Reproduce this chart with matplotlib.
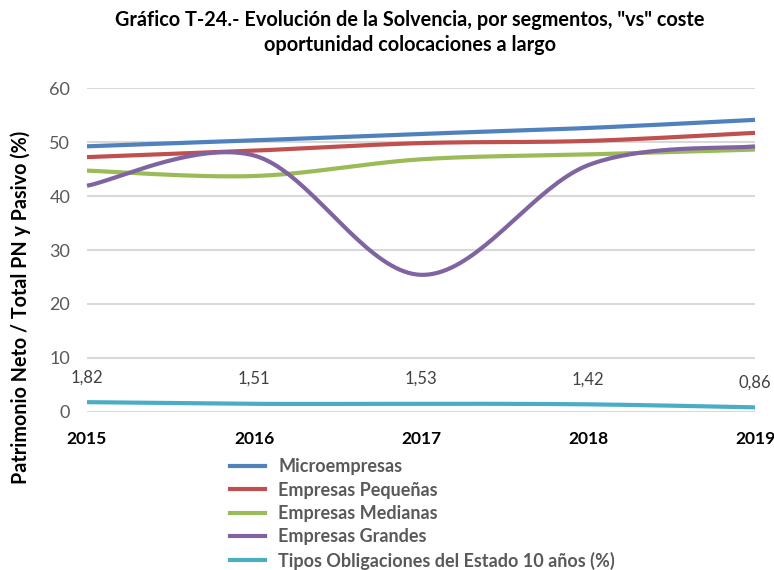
import matplotlib
matplotlib.use("Agg")
import matplotlib.pyplot as plt
import numpy as np
from matplotlib.lines import Line2D

years = [2015, 2016, 2017, 2018, 2019]
micro = [49.2, 50.3, 51.5, 52.6, 54.1]
pequenas = [47.2, 48.4, 49.8, 50.2, 51.7]
medianas = [44.7, 43.7, 46.8, 47.7, 48.6]
grandes = [41.9, 47.5, 25.4, 45.7, 49.2]
obligaciones = [1.82, 1.51, 1.53, 1.42, 0.86]
obl_labels = ["1,82", "1,51", "1,53", "1,42", "0,86"]

names = ["Microempresas", "Empresas Pequeñas", "Empresas Medianas",
         "Empresas Grandes", "Tipos Obligaciones del Estado 10 años (%)"]
colors = ["#4f81bd", "#c0504d", "#9bbb59", "#8064a2", "#4bacc6"]

plt.rcParams['font.family'] = ['Lato', 'DejaVu Sans']


def smooth(xs, ys, n=40):
    xs = np.asarray(xs, float)
    ys = np.asarray(ys, float)
    px, py = [], []
    m = len(xs)
    for i in range(m - 1):
        x0, y0 = (xs[i - 1], ys[i - 1]) if i > 0 else (xs[i], ys[i])
        x1, y1 = xs[i], ys[i]
        x2, y2 = xs[i + 1], ys[i + 1]
        x3, y3 = (xs[i + 2], ys[i + 2]) if i + 2 < m else (xs[i + 1], ys[i + 1])
        c1x = x1 + (x2 - x0) / 6.0
        c1y = y1 + (y2 - y0) / 6.0
        c2x = x2 - (x3 - x1) / 6.0
        c2y = y2 - (y3 - y1) / 6.0
        t = np.linspace(0, 1, n)
        bx = (1 - t) ** 3 * x1 + 3 * (1 - t) ** 2 * t * c1x + 3 * (1 - t) * t ** 2 * c2x + t ** 3 * x2
        by = (1 - t) ** 3 * y1 + 3 * (1 - t) ** 2 * t * c1y + 3 * (1 - t) * t ** 2 * c2y + t ** 3 * y2
        px.extend(bx if i == 0 else bx[1:])
        py.extend(by if i == 0 else by[1:])
    return np.array(px), np.array(py)


fig = plt.figure(figsize=(7.74, 5.70), dpi=100)
ax = fig.add_axes([0.1124, 0.2772, 0.8631, 0.5684])

series = [micro, pequenas, medianas, grandes, obligaciones]
for vals, c in zip(series, colors):
    sx, sy = smooth(years, vals)
    ax.plot(sx, sy, color=c, lw=3.0, solid_capstyle='butt', zorder=3, clip_on=False)

for x, v, lab in zip(years, obligaciones, obl_labels):
    ax.annotate(lab, (x, v), xytext=(0, 18), textcoords='offset points',
                ha='center', va='center', fontsize=12, color='#404040',
                annotation_clip=False)

ax.set_xlim(2015, 2019)
ax.set_ylim(0, 60)
ax.set_yticks([0, 10, 20, 30, 40, 50, 60])
ax.set_xticks(years)
ax.set_xticklabels([str(y) for y in years], fontsize=12.5, fontweight='bold', color='black')
ax.tick_params(axis='y', labelsize=13, labelcolor='#595959', length=0, pad=12)
ax.tick_params(axis='x', length=0, pad=14)
ax.grid(axis='y', color='#d9d9d9', lw=1.5, zorder=0)
ax.set_axisbelow(True)
for s in ax.spines.values():
    s.set_visible(False)

fig.text(0.53, 0.965, 'Gráfico T-24.- Evolución de la Solvencia, por segmentos, "vs" coste',
         ha='center', va='center', fontsize=14.3, fontweight='bold')
fig.text(0.53, 0.921, 'oportunidad colocaciones a largo',
         ha='center', va='center', fontsize=14.3, fontweight='bold')

fig.text(0.027, 0.461, 'Patrimonio Neto / Total PN y Pasivo (%)', rotation=90,
         ha='center', va='center', fontsize=14.2, fontweight='bold')

handles = [Line2D([0], [0], color=c, lw=3.0) for c in colors]
leg = fig.legend(handles, names, loc='upper left', bbox_to_anchor=(0.297, 0.196),
                 frameon=False, handlelength=1.95, handletextpad=0.72,
                 labelspacing=0.35, borderaxespad=0, borderpad=0,
                 prop={'size': 13, 'weight': 'bold'})
for t in leg.get_texts():
    t.set_color('#595959')

fig.savefig('out.png', dpi=100)
